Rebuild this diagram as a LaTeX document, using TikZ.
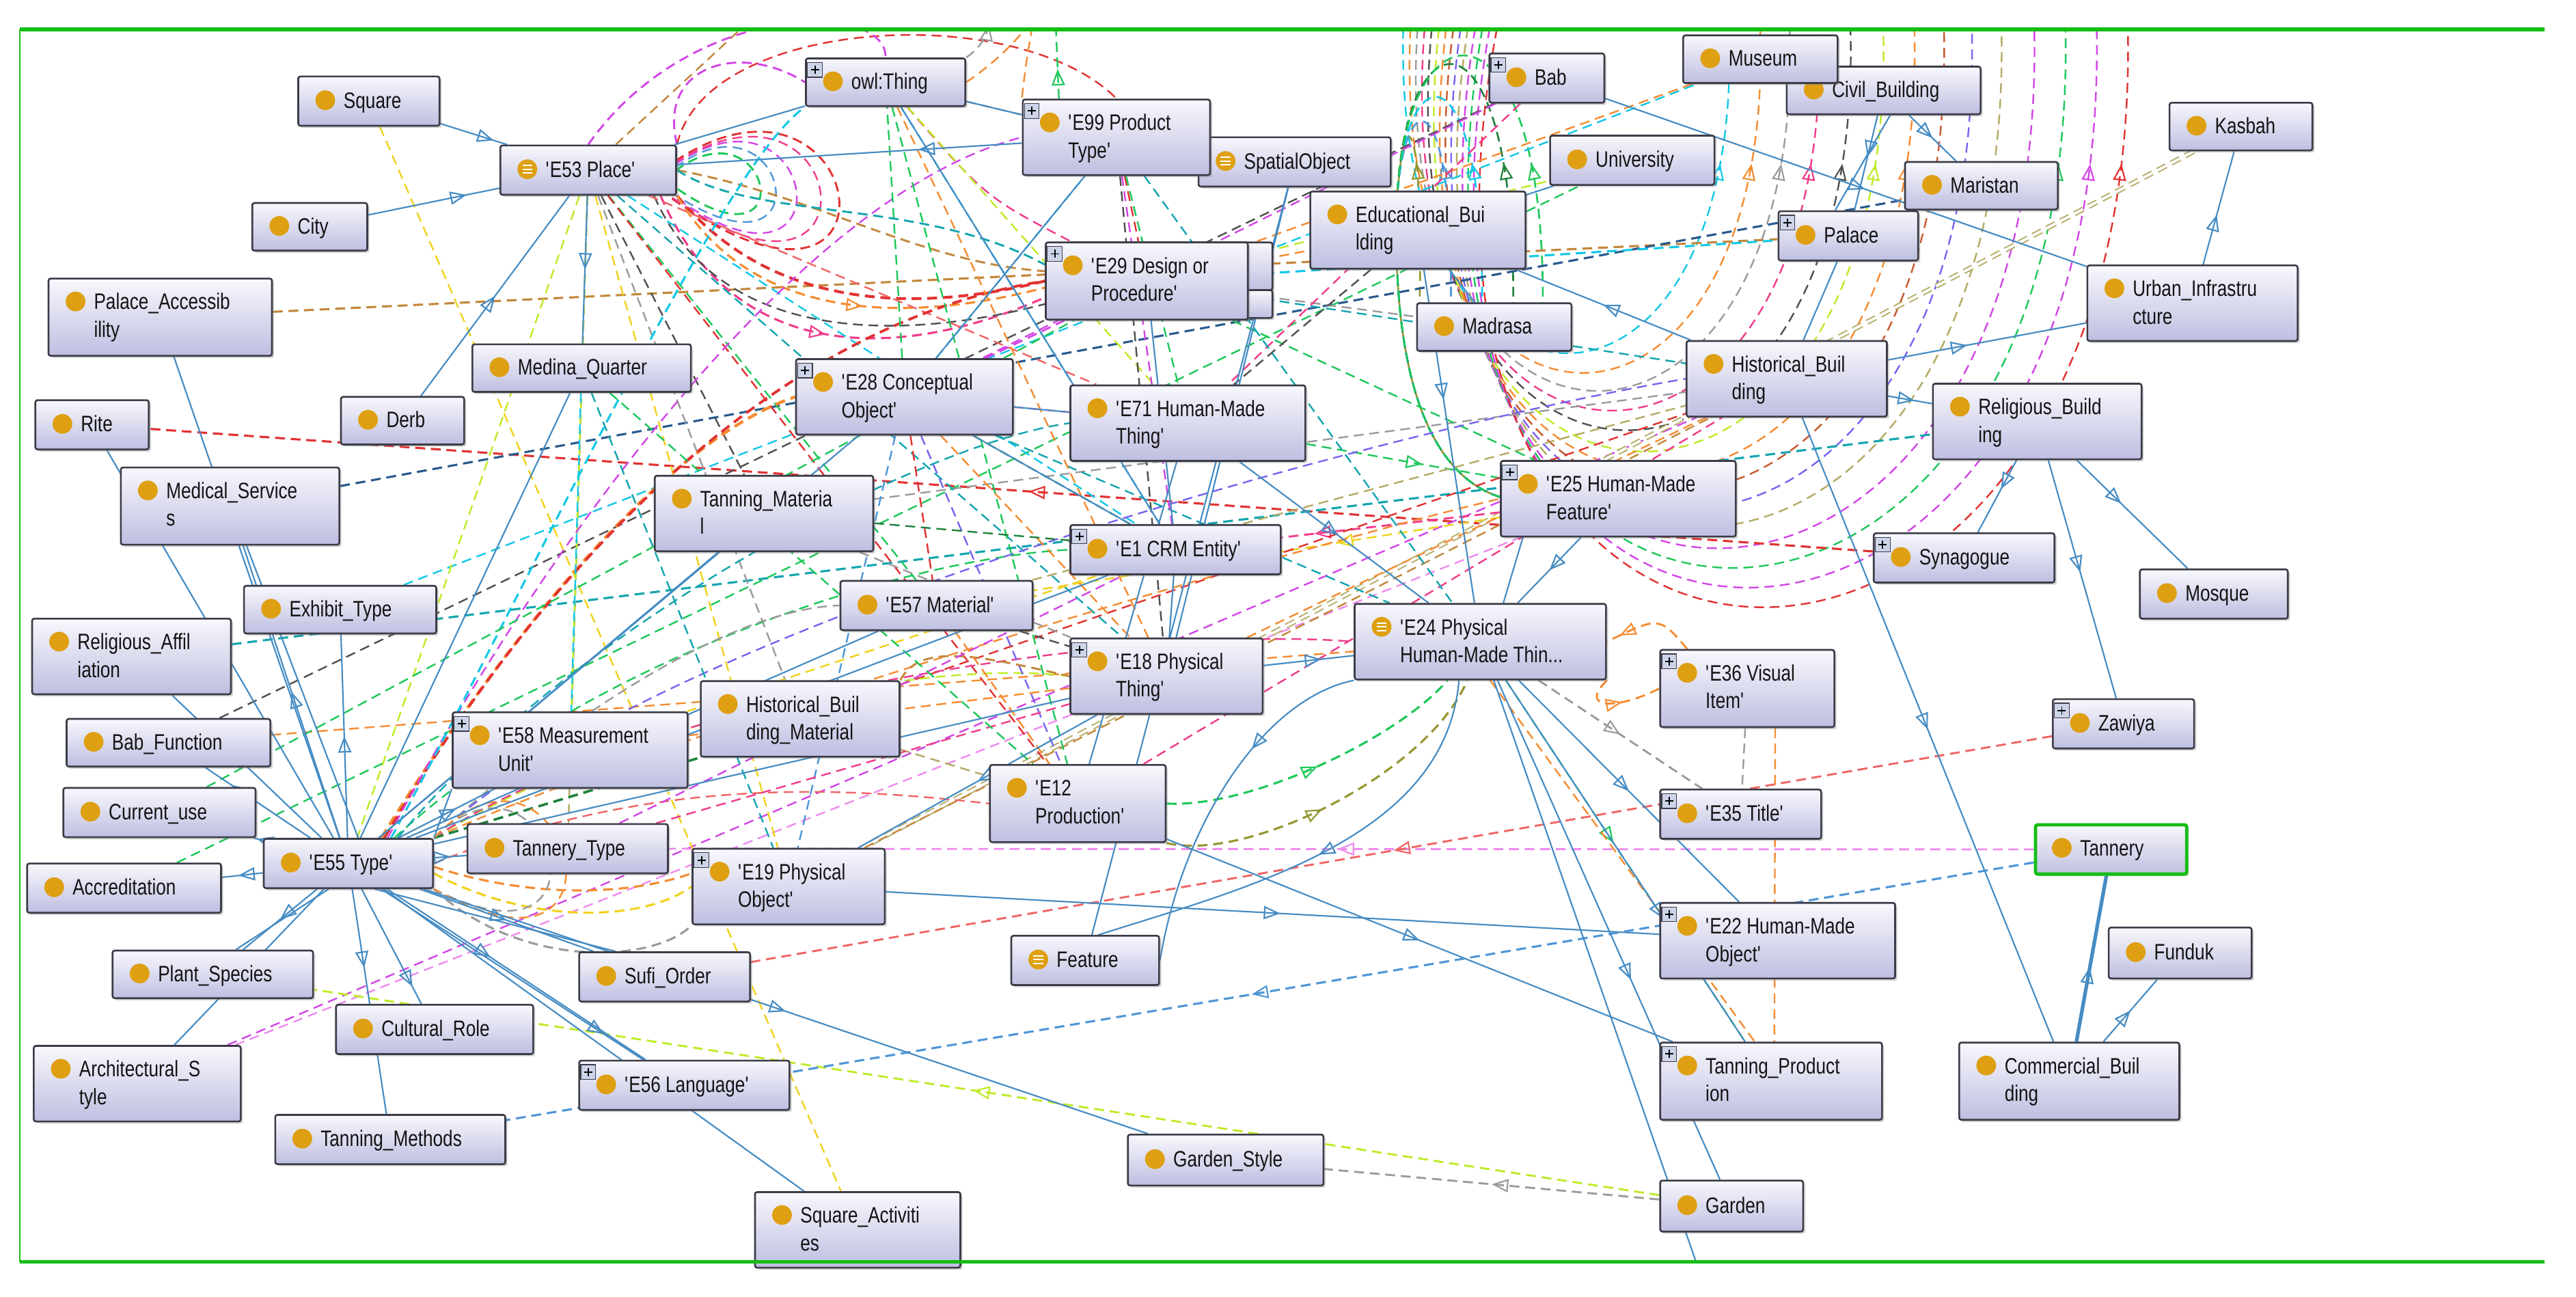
\documentclass[tikz,border=0pt]{standalone}
\usepackage{fontspec}
\newfontfamily\nf[FakeStretch=0.8]{Liberation Sans}
\usetikzlibrary{arrows.meta,decorations.markings,shadows}
\pgfdeclarelayer{bgzero}
\pgfdeclarelayer{edges}
\pgfsetlayers{bgzero,edges,main}
\definecolor{ob}{RGB}{70,140,195}
\definecolor{cR}{RGB}{225,50,50}
\definecolor{cO}{RGB}{245,140,50}
\definecolor{cP}{RGB}{240,60,140}
\definecolor{cM}{RGB}{210,70,230}
\definecolor{cV}{RGB}{120,100,240}
\definecolor{cDB}{RGB}{40,90,140}
\definecolor{cC}{RGB}{20,200,230}
\definecolor{cT}{RGB}{20,165,175}
\definecolor{cG}{RGB}{30,200,90}
\definecolor{cDG}{RGB}{30,130,60}
\definecolor{cL}{RGB}{190,235,40}
\definecolor{cY}{RGB}{240,210,30}
\definecolor{cK}{RGB}{180,170,100}
\definecolor{cB}{RGB}{195,135,60}
\definecolor{cGr}{RGB}{155,155,155}
\definecolor{cDGr}{RGB}{80,80,80}
\definecolor{cS}{RGB}{240,100,100}
\definecolor{cRB}{RGB}{200,90,50}
\definecolor{cLB}{RGB}{80,150,215}
\definecolor{cLP}{RGB}{238,140,238}
\definecolor{cOl}{RGB}{150,150,50}
\definecolor{iconc}{RGB}{222,160,18}
\definecolor{frameg}{RGB}{20,190,20}
\definecolor{btop}{RGB}{248,248,253}
\definecolor{bbot}{RGB}{190,190,225}
\definecolor{bbrd}{RGB}{60,60,72}
\definecolor{txt}{RGB}{20,20,20}
\definecolor{plf}{RGB}{205,212,232}
\newcommand{\apos}{\textquotesingle}
\tikzset{
  otri/.tip={Triangle[open,length=10pt,width=8pt]},
  obox/.style={rectangle,draw=bbrd,line width=1.1pt,rounded corners=1.3pt,
    top color=btop,bottom color=bbot,inner sep=0pt,
    drop shadow={shadow xshift=1.3pt,shadow yshift=-1.3pt,opacity=0.35}},
  ntext/.style={font=\nf\fontsize{13.6}{17}\selectfont,text=txt,inner sep=0pt},
  isa/.style={draw=ob,line width=0.9pt},
  ds/.style={draw=#1,dash pattern=on 6pt off 3.5pt,line width=1pt},
  tri/.style={postaction={decorate,decoration={markings,mark=at position #1 with {\arrow[line width=0.9pt]{otri}}}}}
}
\newcommand{\nA}[7][]{%
  \node[obox,#1,minimum width={#5-#3},minimum height={#6-#4},anchor=north west] (#2) at (#3,#4) {};
  \fill[iconc] ({#3+17},{(#4+#6)/2}) circle (6pt);
  \node[ntext,anchor=base west] (#2-t) at ({#3+28},{(#4+#6)/2+4.8}) {#7};
}
\newcommand{\nB}[8][]{%
  \node[obox,#1,minimum width={#5-#3},minimum height={#6-#4},anchor=north west] (#2) at (#3,#4) {};
  \fill[iconc] ({#3+17},{#4+14.5}) circle (6pt);
  \node[ntext,anchor=base west] (#2-t) at ({#3+28},{#4+19.4}) {#7};
  \node[ntext,anchor=base west] (#2-u) at ({#3+28},{#4+36.2}) {#8};
}
\newcommand{\pl}[2]{%
  \filldraw[fill=plf,draw=bbrd,line width=0.5pt] ({#1+1.5},{#2+3}) rectangle ({#1+10.5},{#2+12});
  \draw[line width=0.8pt,black] ({#1+3.5},{#2+7.5}) -- ({#1+8.5},{#2+7.5}) ({#1+6},{#2+5}) -- ({#1+6},{#2+10});
}
\newcommand{\eqi}[2]{%
  \draw[white,line width=0.9pt] ({#1+14},{#2-2.3}) -- ({#1+20},{#2-2.3}) ({#1+14},{#2}) -- ({#1+20},{#2}) ({#1+14},{#2+2.3}) -- ({#1+20},{#2+2.3});
}
\begin{document}
\begin{tikzpicture}[x=1pt,y=-1pt]
\useasboundingbox (0,0) rectangle (1568,789);
\begin{pgfonlayer}{bgzero}
\fill[white] (0,0) rectangle (1568,789);
\end{pgfonlayer}

% ---------------- nodes ----------------
\nA{sq}{181}{46}{267}{76}{Square}
\nA{city}{153}{123}{223}{152}{City}
\nA{e53}{304}{88}{411}{118}{\apos E53 Place\apos}\eqi{304}{103}
\nB{pacc}{29}{169}{165}{216}{Palace\_Accessib}{ility}
\nA{medq}{287}{209}{420}{238}{Medina\_Quarter}
\nA{rite}{21}{243}{90}{273}{Rite}
\nA{derb}{207}{241}{282}{270}{Derb}
\nB{meds}{73}{284}{206}{331}{Medical\_Service}{s}
\nB{tmat}{398}{289}{531}{335}{Tanning\_Materia}{l}
\nA{exh}{148}{356}{265}{385}{Exhibit\_Type}
\nB{e28}{484}{218}{616}{264}{\apos E28 Conceptual}{Object\apos}\pl{484}{218}
\nA{owl}{490}{35}{587}{64}{owl:Thing}\pl{490}{35}
\nA{spat}{729}{83}{846}{113}{SpatialObject}\eqi{729}{98}
\nB{e99}{622}{60}{736}{106}{\apos E99 Product}{Type\apos}\pl{622}{60}
\nA{bab}{906}{32}{976}{62}{Bab}\pl{906}{32}
\nA{civ}{1087}{40}{1205}{69}{Civil\_Building}
\nA{mus}{1024}{21}{1118}{50}{Museum}
\nA{uni}{943}{82}{1043}{112}{University}
\nB{edu}{797}{116}{928}{163}{Educational\_Bui}{lding}
\node[obox,minimum width=124,minimum height=29,anchor=north west] (e29b) at (650,147) {};
\node[obox,minimum width=124,minimum height=17,anchor=north west] (e29c) at (650,176) {};
\nB{e29}{636}{147}{759}{194}{\apos E29 Design or}{Procedure\apos}\pl{636}{147}
\nA{madr}{862}{184}{956}{213}{Madrasa}
\nB{e71}{651}{234}{794}{280}{\apos E71 Human-Made}{Thing\apos}
\nB{e25}{913}{280}{1056}{326}{\apos E25 Human-Made}{Feature\apos}\pl{913}{280}
\nA{e1}{651}{319}{779}{349}{\apos E1 CRM Entity\apos}\pl{651}{319}
\nA{e57}{511}{353}{628}{383}{\apos E57 Material\apos}
\nB{e24}{824}{367}{977}{413}{\apos E24 Physical}{Human-Made Thin...}\eqi{824}{381.5}
\nA{kas}{1320}{62}{1407}{91}{Kasbah}
\nA{mar}{1159}{98}{1252}{127}{Maristan}
\nA{pal}{1082}{128}{1167}{158}{Palace}\pl{1082}{128}
\nB{urb}{1270}{161}{1398}{207}{Urban\_Infrastru}{cture}
\nB{hist}{1026}{207}{1148}{253}{Historical\_Buil}{ding}
\nB{relb}{1176}{233}{1303}{279}{Religious\_Build}{ing}
\nA{syn}{1140}{324}{1250}{354}{Synagogue}\pl{1140}{324}
\nA{mosq}{1302}{346}{1392}{376}{Mosque}
\nB{relaf}{19}{376}{140}{422}{Religious\_Affil}{iation}
\nA{babf}{40}{437}{164}{466}{Bab\_Function}
\nA{curu}{38}{479}{155}{509}{Current\_use}
\nA{e55}{160}{510}{263}{540}{\apos E55 Type\apos}
\nA{accr}{16}{525}{134}{555}{Accreditation}
\nB{e58}{275}{433}{418}{479}{\apos E58 Measurement}{Unit\apos}\pl{275}{433}
\nB{hbm}{426}{414}{547}{460}{Historical\_Buil}{ding\_Material}
\nA{ttype}{284}{501}{406}{531}{Tannery\_Type}
\nB{e19}{421}{516}{538}{562}{\apos E19 Physical}{Object\apos}\pl{421}{516}
\nA{plant}{68}{578}{190}{607}{Plant\_Species}
\nA{sufi}{352}{579}{456}{609}{Sufi\_Order}
\nA{cult}{204}{611}{324}{641}{Cultural\_Role}
\nB{arch}{20}{636}{146}{682}{Architectural\_S}{tyle}
\nA{e56}{352}{645}{480}{675}{\apos E56 Language\apos}\pl{352}{645}
\nA{tmeth}{167}{678}{307}{708}{Tanning\_Methods}
\nB{sqact}{459}{725}{584}{771}{Square\_Activiti}{es}
\nB{e18}{651}{388}{768}{434}{\apos E18 Physical}{Thing\apos}\pl{651}{388}
\nB{e12}{602}{465}{709}{512}{\apos E12}{Production\apos}
\nA{feat}{615}{569}{705}{599}{Feature}\eqi{615}{584}
\nA{gsty}{686}{690}{805}{721}{Garden\_Style}
\nB{e36}{1010}{395}{1116}{442}{\apos E36 Visual}{Item\apos}\pl{1010}{395}
\nA{e35}{1010}{480}{1108}{510}{\apos E35 Title\apos}\pl{1010}{480}
\nB{e22}{1010}{549}{1153}{595}{\apos E22 Human-Made}{Object\apos}\pl{1010}{549}
\nB{tprod}{1010}{634}{1145}{681}{Tanning\_Product}{ion}\pl{1010}{634}
\nA{gard}{1010}{718}{1097}{749}{Garden}
\nA{zaw}{1249}{425}{1335}{455}{Zawiya}\pl{1249}{425}
\nA[draw=frameg,line width=2pt]{tann}{1238}{501}{1330}{531}{Tannery}
\nA{fund}{1283}{564}{1370}{595}{Funduk}
\nB{comm}{1192}{634}{1326}{681}{Commercial\_Buil}{ding}

\coordinate (topA) at (470,0);
\coordinate (topB) at (642,0);
\coordinate (botA) at (1040,790);

% ---------------- connectors ----------------
\begin{pgfonlayer}{edges}
\begin{scope}
\clip (12,18) rectangle (1549,768);

% big concentric arcs (top right)
\foreach \xr/\yb/\xl/\col [count=\i] in {1052/218/872/cC,1071/230/870/cO,1089/241/868/cGr,1107/253/866/cP,1126/265/864/cDGr,1146/278/862/cL,1165/290/860/cO,1183/302/858/cRB,1200/313/856/cV,1218/324/854/cK,1238/337/852/cM,1257/349/850/cG,1276/361/848/cM,1295/373/846/cR}{
  \pgfmathsetmacro\cy{18+1.33*(\yb-18)}
  \pgfmathsetmacro\xs{850+4.5*\i}
  \draw[ds=\col,tri=-92pt] (\xs,8) .. controls (\xl-30,\cy) and (\xr+15,\cy) .. (\xr,8);
}
% small loops near Bab
\foreach \xa/\c/\col in {864/60/cOl,883/47/cLB,902/27/cC,921/0/cDG,939/-7/cG}{
  \draw[ds=\col,line width=1.1pt,tri=91pt] (\xa,190) .. controls (\xa+3,\c) and (853,\c) .. (850,130) .. controls (848,250) and (880,300) .. (925,305);
}

% long straight dashed relations
\draw[ds=cR,line width=1.3pt,tri=0.49] (syn) -- (rite);
\draw[ds=cB,line width=1.3pt] (pacc) -- (pal);
\draw[ds=cDB,line width=1.3pt] (meds) -- (mar);
\draw[ds=cT,line width=1.3pt] (relaf) -- (relb);
\draw[ds=cDGr] (babf) -- (bab);
\draw[ds=cO] (babf) -- (e24);
\draw[ds=cG] (accr) -- (uni);
\draw[ds=cC] (exh) -- (mus);
\draw[ds=cM] (arch) -- (hist);
\draw[ds=cLP] (arch) -- (e25);
\draw[ds=cL,line width=1.2pt,tri=0.51] (gard) -- (plant);
\draw[ds=cGr,line width=1.2pt,tri=0.5] (gard) -- (gsty);
\draw[ds=cLP,line width=1.2pt,tri=0.51] (tann) -- (ttype);
\draw[ds=cS,line width=1.2pt,tri=0.506] (zaw) -- (sufi);
\draw[ds=cLB,line width=1.3pt,tri=0.512] (tann) -- (tmeth);
\draw[ds=cK,double=white,double distance=1.6pt,line width=0.8pt] (kas) -- (e19);
\draw[ds=cY] (sq) -- (sqact);

% E24 / E36 / E35 region
\draw[ds=cO,line width=1.2pt,tri=0.85] ([xshift=17pt]e36.north west) .. controls (1010,375) .. (e24.east);
\draw[ds=cO,line width=1.2pt,tri=0.55] (e24.south east) .. controls (960,432) and (985,432) .. (e36.west);
\draw[ds=cGr,line width=1.2pt,tri=0.5] (e24) -- (e35);
\draw[ds=cGr] (e36) -- (e35);
\draw[ds=cO] ([xshift=17pt]e36.south) -- ([xshift=2pt]tprod.north);
\draw[ds=cG,tri=0.45] (e24) -- (tprod);
\draw[ds=cO] ([xshift=6pt]e24.south) -- ([xshift=-10pt]tprod.north);
\draw[ds=cG,line width=1.3pt,tri=0.5] (e12.east) .. controls (760,492) and (850,450) .. ([xshift=-20pt]e24.south);
\draw[ds=cOl,line width=1.3pt,tri=0.45] (e12.south east) .. controls (760,525) and (870,470) .. ([xshift=-8pt]e24.south);

% E25 related
\draw[ds=cP,line width=1.2pt,tri=0.85] (e25) -- (e1);
\draw[ds=cY,tri=0.35] (e25) -- (e57);
\draw[ds=cG,tri=0.6] (e71) -- (e25);

% into Historical_Building
\draw[ds=cO] (e18) -- (hist);
\draw[ds=cB] (e19) -- (hist);
\draw[ds=cP] (e12) -- (hist);
\draw[ds=cK] (e57) -- (hist);
\draw[ds=cR] (hbm) -- (hist);
\draw[ds=cGr] (tmat) -- (hist);

% E29 to the right
\draw[ds=cC,line width=1.3pt] (e29) -- (pal);
\draw[ds=cO] (e29) -- (edu);
\draw[ds=cGr] (e29) -- (madr);
\draw[ds=cG] (e29) -- (e25);
\draw[ds=cT] (e29) -- (hist);
\draw[ds=cL] (e29) -- (uni);
\draw[ds=cO] (mus) -- (e29);
\draw[ds=cP] (bab) -- (e71);
\draw[ds=cM] (bab) -- (e28);
\draw[ds=cDGr] (edu) -- (e71);

% E53 loops
\draw[ds=cR,line width=1.2pt] (411,98) .. controls (530,20) and (560,230) .. (405,118);
\draw[ds=cG,line width=1.2pt] (411,104) .. controls (470,60) and (490,170) .. (411,114);
\draw[ds=cM] (411,100) .. controls (500,40) and (520,200) .. (408,118);
\draw[ds=cLB] (411,102) .. controls (480,50) and (505,180) .. (410,118);
\draw[ds=cP] (411,99) .. controls (520,30) and (540,215) .. (406,118);
% E53 -> E29 curves
\draw[ds=cR,line width=1.7pt] (e53.south east) .. controls (470,190) and (560,190) .. (e29.west);
\draw[ds=cO,line width=1.3pt,tri=0.55] (e53.south east) .. controls (460,200) and (560,195) .. ([yshift=-4pt]e29.west);
\draw[ds=cP,line width=1.3pt,tri=0.5] ([xshift=-10pt]e53.south east) .. controls (450,230) and (560,215) .. ([yshift=-10pt]e29.west);
\draw[ds=cDGr] ([xshift=-14pt]e53.south east) .. controls (440,215) and (560,205) .. ([yshift=-14pt]e29.west);
\draw[ds=cB,line width=1.2pt] (e53.east) .. controls (500,120) and (560,160) .. ([yshift=6pt]e29.west);
\draw[ds=cT,line width=1.2pt] (e53.east) .. controls (460,135) and (560,120) .. ([yshift=10pt]e29.west);
% E53 fan
\draw[ds=cK] (e53) -- (ttype);
\draw[ds=cL] (e53) -- (e58);
\draw[ds=cGr] (e53) -- (hbm);
\draw[ds=cG] (e53) -- (e57);
\draw[ds=cT] (e53) -- (e18);
\draw[ds=cR] (e53) -- (e12);
\draw[ds=cDGr] (e53) -- (tmat);
\draw[ds=cC] (e53) -- (e1);
\draw[ds=cY] (e53) -- (e19);
\draw[ds=cS] (e53) -- (e71);
\draw[ds=cL] (e53) -- (e55);
% top loops
\draw[ds=cM,line width=1.2pt] (e53.north east) .. controls (400,40) and (450,25) .. (owl.west);
\draw[ds=cB] (e53) -- (topA);
\draw[ds=cR] (e53.north east) .. controls (430,10) and (620,0) .. (e99.north);
\draw[ds=cM,line width=1.2pt] (e53.north) .. controls (420,0) and (540,0) .. (owl.north);
\draw[ds=cO,tri=0.6] (owl.east) .. controls (640,15) and (630,-15) .. (e99.north west);
\draw[ds=cG,tri=0.3] ([xshift=-35pt]e99.north) -- (topB);
\draw[ds=cGr,tri=0.5] (owl.north east) .. controls (610,20) and (600,0) .. (600,-10);

% E55 curves up
\draw[ds=cO,line width=1.8pt] ([xshift=20pt]e55.north) .. controls (300,400) and (400,270) .. (e28.west);
\draw[ds=cR,line width=1.6pt] ([xshift=22pt]e55.north) .. controls (310,380) and (450,200) .. (e29.west);
\draw[ds=cM] ([xshift=24pt]e55.north) .. controls (320,350) and (480,120) .. (e99.west);
\draw[ds=cC,line width=1.3pt] ([xshift=26pt]e55.north) .. controls (330,340) and (440,100) .. (owl.south west);
\draw[ds=cG] ([xshift=28pt]e55.north) .. controls (360,400) and (550,340) .. (e1.west);
\draw[ds=cT] ([xshift=30pt]e55.north) .. controls (350,380) and (560,270) .. (e71.west);
\draw[ds=cL] (e55.north east) .. controls (380,440) and (560,400) .. (e18.west);
\draw[ds=cGr] (e55.north east) .. controls (350,430) and (450,370) .. (e57.west);
\draw[ds=cS] (e55.east) .. controls (400,470) and (520,480) .. (e12.west);
\draw[ds=cP] (e55.north east) .. controls (400,420) and (700,380) .. (e24.west);
\draw[ds=cO] (e55.north east) .. controls (420,440) and (800,330) .. (e25.west);
\draw[ds=cV] (e55.north east) .. controls (400,380) and (850,260) .. (hist.west);
\draw[ds=cDG,line width=1.5pt] (e55.north east) -- (hbm.south west);
% E55 to E19 curves and self loops
\draw[ds=cGr,line width=1.3pt] (e55.south east) .. controls (320,592) and (400,585) .. (e19.south west);
\draw[ds=cY,line width=1.3pt] ([yshift=-6pt]e55.east) .. controls (320,562) and (390,562) .. (e19.west);
\draw[ds=cO,line width=1.3pt] ([yshift=-2pt]e55.east) .. controls (320,546) and (380,546) .. ([yshift=8pt]e19.west);
\draw[ds=cGr] (e55.north east) .. controls (335,440) and (380,600) .. (e55.south east);
\draw[ds=cO] (e55.north east) .. controls (345,425) and (395,615) .. (e55.south east);

% E28 out
\draw[ds=cM,line width=1.2pt] (e28) -- (e29);
\draw[ds=cC] (e28) -- (e99);
\draw[ds=cG] (e28) -- (owl);
\draw[ds=cP] (e28) -- (e71);
\draw[ds=cDG] (e28) -- (e1);
\draw[ds=cR] (e28) -- (e57);
\draw[ds=cO] (e28) -- (e18);
\draw[ds=cV] (e28) -- (e12);
\draw[ds=cLB] (e28) -- (e19);
\draw[ds=cT] (e28) -- (e24);
% owl out
\draw[ds=cGr] (owl) -- (e99);
\draw[ds=cP] (owl) .. controls (600,120) .. (e29);
\draw[ds=cC] (owl) -- (e1);
\draw[ds=cL] (owl) -- (e71);
\draw[ds=cO] (owl) -- (e18);
\draw[ds=cG] (owl) -- (e12);
% E99 out
\draw[ds=cR] (e99) -- (e29);
\draw[ds=cG] (e99) -- (e71);
\draw[ds=cM] (e99) -- (e1);
\draw[ds=cDGr] (e99) -- (e18);
\draw[ds=cT] (e99) -- (e24);
% centre
\draw[ds=cGr] (tmat) -- (e18);
\draw[ds=cB,line width=1.2pt] (hbm.north east) .. controls (560,390) and (600,400) .. (e18.west);
\draw[ds=cDGr] (e57) -- (e18);
\draw[ds=cY] (e58) -- (e1);
\draw[ds=cDG] (tmat) -- (e1);
\draw[ds=cO] (e57) -- (e12);
\draw[ds=cK] (hbm) -- (e12);
\draw[ds=cO] (e58) -- (e18);
\draw[ds=cP] (ttype) -- (e18);
\draw[ds=cM] (ttype) -- (e1);
\draw[ds=cT] (medq) -- (e19);
\draw[ds=cC] (medq) -- (e58);
\draw[ds=cG] (medq) -- (e12);
\draw[ds=cG] (curu) -- (e29);

% ---------- subclass (solid blue) ----------
\draw[isa,tri=0.8] (sq) -- (e53);
\draw[isa,tri=0.75] (city) -- (e53);
\draw[isa,tri=0.5] (derb) -- (e53);
\draw[isa,tri=0.5] (e53) -- (medq);
\draw[isa,tri=0.3] (e99) -- (e53);
\draw[isa] (owl) -- (e53);
\draw[isa] (owl) -- (e1);
\draw[isa] (owl) -- (e99);
\draw[isa,tri=0.75] (e55) -- (pacc);
\draw[isa] (e55) -- (rite);
\draw[isa,tri=0.5] (e55) -- (meds);
\draw[isa] ([xshift=6pt]e55.north) -- ([xshift=10pt]meds.south);
\draw[isa,tri=0.6] (e55) -- (relaf);
\draw[isa,tri=0.5] (e55) -- (exh);
\draw[isa,tri=0.75] (e55) -- (babf);
\draw[isa,tri=0.7] (e55) -- (curu);
\draw[isa,tri=0.6] (e55) -- (accr);
\draw[isa,tri=0.5] (e55) -- (plant);
\draw[isa] ([xshift=-12pt]e55.south) -- ([xshift=14pt]plant.north);
\draw[isa] (e55) -- (arch);
\draw[isa,tri=0.85] (e55) -- (cult);
\draw[isa,tri=0.35] (e55) -- (tmeth);
\draw[isa,tri=0.5] (e55) -- (sufi);
\draw[isa] ([xshift=16pt]e55.south) -- ([xshift=-30pt]sufi.north);
\draw[isa,tri=0.4] (e55) -- (e56);
\draw[isa,tri=0.85] ([xshift=20pt]e55.south) -- ([xshift=-25pt]e56.north);
\draw[isa] (e55) -- (sqact);
\draw[isa,tri=0.5] (e55) -- (gsty);
\draw[isa,tri=0.5] (e55) -- (ttype);
\draw[isa,tri=0.6] (e55) -- (e58);
\draw[isa] (e55.north east) -- (e58.south west);
\draw[isa] (e55) -- (tmat);
\draw[isa] (e55) -- (e57);
\draw[isa] (e55) -- (e28);
\draw[isa] (e55) -- (e1);
\draw[isa] (e55) -- (e18);
\draw[isa] (e55) -- (medq);
\draw[isa] (spat) -- (feat);
\draw[isa,tri=0.5] (e24) -- (e22);
\draw[isa,tri=0.66] (e24) -- (tprod);
\draw[isa,tri=0.6] (e24) -- (gard);
\draw[isa] (e24) -- (botA);
\draw[isa,tri=0.52] (e71) -- (e24);
\draw[isa,tri=0.64] (e18) -- (e24);
\draw[isa,tri=0.5] (e25) -- (e24);
\draw[isa] ([xshift=14pt]e25.south west) -- ([xshift=14pt]e24.north);
\draw[isa,tri=0.39] (edu) -- (e24);
\draw[isa,tri=0.35] (e24.south west) .. controls (770,425) and (720,500) .. (feat.east);
\draw[isa,tri=0.5] ([xshift=-13pt]e24.south) .. controls (880,510) and (760,540) .. ([xshift=8pt]feat.north);
\draw[isa,tri=0.5] (e12) -- (tprod);
\draw[isa,tri=0.51] (e19) -- (e22);
\draw[isa,tri=0.54] (bab) -- (urb);
\draw[isa,tri=0.44] (urb) -- (kas);
\draw[isa,tri=0.4] (hist) -- (urb);
\draw[isa,tri=0.6] (hist) -- (relb);
\draw[isa,tri=0.5] (civ) -- (mar);
\draw[isa,tri=0.44] (civ) -- (pal);
\draw[isa] ([xshift=4pt]civ.south) -- ([xshift=-8pt]pal.north);
\draw[isa] (pal) -- (hist);
\draw[isa,tri=0.5] (hist) -- (edu);
\draw[isa] (edu) -- (uni);
\draw[isa] (edu) -- (madr);
\draw[isa,tri=0.4] (relb) -- (syn);
\draw[isa,tri=0.4] (relb) -- (mosq);
\draw[isa,tri=0.47] (relb) -- (zaw);
\draw[isa,tri=0.5] (hist) -- (comm);
\draw[isa,line width=2.2pt,tri=0.45] (comm) -- (tann);
\draw[isa,tri=0.5] (comm) -- (fund);
\draw[isa] (e28) -- (e1);
\draw[isa] (e29) -- (e1);
\draw[isa,tri=0.5] (e18) -- (e19);
\draw[isa] (e71) -- (e28);
\draw[isa] (e1) -- (e18);
\draw[isa] (e99) -- (e28);
\draw[isa] (spat) -- (e18);
\draw[isa] (e71) -- (e12);
\end{scope}
\end{pgfonlayer}

% frame
\draw[frameg,line width=2.6pt] (12,18) -- (1549,18);
\draw[frameg,line width=1pt] (12,18) -- (12,768);
\draw[frameg,line width=1.8pt] (12,768) -- (1549,768);
\end{tikzpicture}
\end{document}
